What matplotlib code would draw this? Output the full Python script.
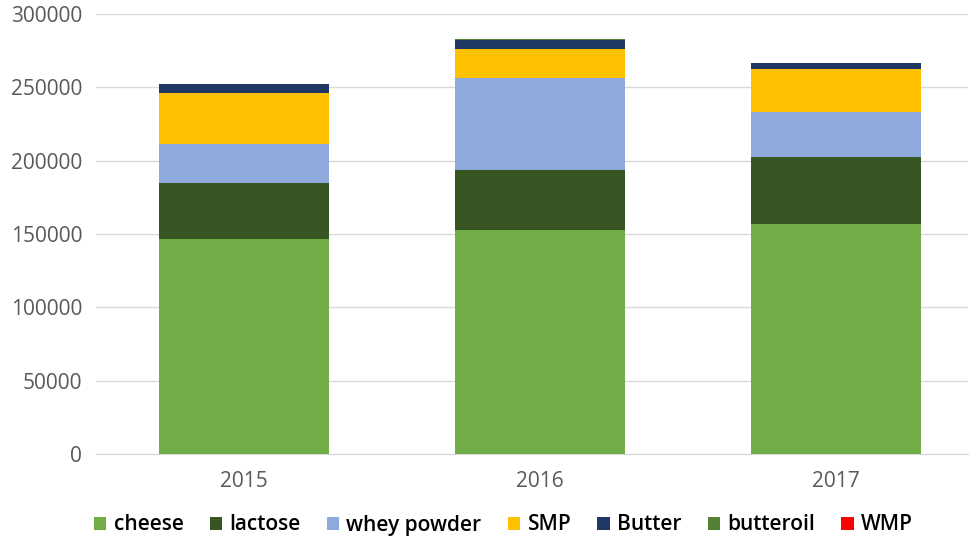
import numpy as np
import matplotlib.pyplot as plt

years = ['2015', '2016', '2017']
products = ['cheese', 'lactose', 'whey powder', 'SMP', 'Butter', 'butteroil', 'WMP']
colors = ['#70AD47', '#375623', '#8EA9DB', '#FFC000', '#203864', '#548235', '#FF0000']

cheese = [146600, 152700, 156800]
lactose = [38200, 40900, 45700]
whey_powder = [26600, 63100, 30700]
smp = [34600, 19100, 29000]
butter = [6100, 6500, 4100]
butteroil = [0, 500, 0]
wmp = [400, 0, 600]

series = [cheese, lactose, whey_powder, smp, butter, butteroil, wmp]

plt.rcParams['font.family'] = ['Open Sans', 'DejaVu Sans']

fig = plt.figure(figsize=(9.70, 5.39), dpi=100)
ax = fig.add_axes([96 / 970, 85 / 539, (968 - 96) / 970, 440 / 539])

x = np.arange(len(years))
bottom = np.zeros(len(years))
for name, vals, c in zip(products, series, colors):
    ax.bar(x, vals, bottom=bottom, width=0.575, color=c, label=name, zorder=3)
    bottom += np.array(vals)

ax.set_xlim(-0.5, 2.446)
ax.set_ylim(0, 300000)
ax.set_yticks(np.arange(0, 300001, 50000))
ax.set_xticks(x)
ax.set_xticklabels(years)
ax.grid(axis='y', color='#D9D9D9', linewidth=1, zorder=0)
for s in ['top', 'right', 'left']:
    ax.spines[s].set_visible(False)
ax.spines['bottom'].set_color('#D9D9D9')
ax.tick_params(axis='both', length=0, colors='#595959', labelsize=15)
ax.tick_params(axis='x', pad=12)
ax.tick_params(axis='y', pad=10)

handles, labels = ax.get_legend_handles_labels()
fig.legend(handles, labels, loc='center', bbox_to_anchor=(0.519, 1 - 525 / 539),
           ncol=7, frameon=False, handlelength=0.6, handleheight=0.6,
           handletextpad=0.35, columnspacing=1.25, prop={'weight': 'semibold', 'size': 15})

fig.savefig('out.png', dpi=100)
